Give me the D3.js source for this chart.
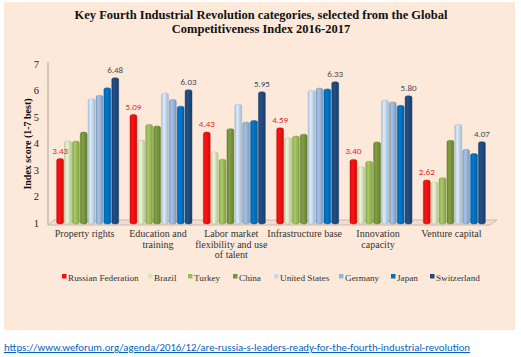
<!DOCTYPE html>
<html><head><meta charset="utf-8">
<script src="https://cdn.jsdelivr.net/npm/d3@7"></script>
<style>body{margin:0;background:#fff}svg{display:block}</style>
</head><body>
<svg id="c" width="521" height="357"></svg>
<script>
const categories = [["Property rights"],["Education and","training"],["Labor market","flexibility and use","of talent"],["Infrastructure base"],["Innovation","capacity"],["Venture capital"]];
const series = ["Russian Federation","Brazil","Turkey","China","United States","Germany","Japan","Switzerland"];
const colors = ["#ee1111","#d7e4bd","#9bbb59","#77933c","#c6d9f1","#95b3d7","#0070c0","#1f497d"];
const russia      = [3.43, 5.09, 4.43, 4.59, 3.40, 2.62];
const brazil      = [4.09, 4.13, 3.68, 4.22, 3.12, 2.55];
const turkey      = [4.09, 4.72, 3.41, 4.28, 3.33, 2.71];
const china       = [4.43, 4.66, 4.56, 4.35, 4.06, 4.12];
const unitedStates= [5.69, 5.91, 5.48, 6.00, 5.64, 4.72];
const germany     = [5.82, 5.66, 4.81, 6.09, 5.57, 3.78];
const japan       = [6.10, 5.41, 4.87, 6.06, 5.44, 3.62];
const switzerland = [6.48, 6.03, 5.95, 6.33, 5.80, 4.07];
const values = [russia, brazil, turkey, china, unitedStates, germany, japan, switzerland];
const yTicks = [1,2,3,4,5,6,7];
const title = ["Key Fourth  Industrial  Revolution  categories, selected from the Global","Competitiveness Index 2016-2017"];
const yTitle = "Index score (1-7 best)";
const link = "https://www.weforum.org/agenda/2016/12/are-russia-s-leaders-ready-for-the-fourth-industrial-revolution";

const svg = d3.select("#c");
const serif = "'Liberation Serif','Times New Roman',serif";
const sans = "Carlito,'Liberation Sans','Open Sans',sans-serif";

svg.append("rect").attr("x",4).attr("y",2).attr("width",511).attr("height",328).attr("fill","#fde9d9");

// title
svg.append("g").selectAll("text").data(title).join("text")
  .attr("x",261).attr("y",(d,i)=>19+i*13.5).attr("text-anchor","middle")
  .attr("font-family",serif).attr("font-weight","bold").attr("font-size",12.5).attr("fill","#111")
  .text(d=>d);

const y = d3.scaleLinear().domain([1,7]).range([223,64]);
const x0 = d3.scaleBand().domain(d3.range(categories.length)).range([48,488]).paddingInner(0.154).paddingOuter(0.077);
const x1 = d3.scaleBand().domain(d3.range(series.length)).range([0,x0.bandwidth()]).paddingInner(0.12);

// gradients for cylinder look
const defs = svg.append("defs");
colors.forEach((c,i)=>{
  const g = defs.append("linearGradient").attr("id","g"+i).attr("x1","0").attr("x2","1").attr("y1","0").attr("y2","0");
  const base = d3.color(c);
  g.append("stop").attr("offset","0").attr("stop-color",base.darker(0.35));
  g.append("stop").attr("offset","0.35").attr("stop-color",base.brighter(0.25));
  g.append("stop").attr("offset","1").attr("stop-color",base.darker(0.45));
});

// floor
svg.append("path").attr("d","M48,225 L54,220 L497,220 L490,225 Z").attr("fill","#f3ddcf").attr("stroke","#b8b0aa").attr("stroke-width",0.8);
// y axis line
svg.append("line").attr("x1",48).attr("x2",48).attr("y1",62).attr("y2",225).attr("stroke","#a6a6a6");

// y axis ticks
const yAxis = d3.axisLeft(y).tickValues(yTicks).tickSize(0).tickPadding(9).tickFormat(d3.format("d"));
const ya = svg.append("g").attr("transform","translate(48,0)").call(yAxis);
ya.select(".domain").remove();
ya.selectAll("text").attr("font-family",serif).attr("font-size",10.5).attr("fill","#222");

svg.append("text").attr("transform","translate(31,144) rotate(-90)").attr("text-anchor","middle")
  .attr("font-family",serif).attr("font-weight","bold").attr("font-size",10).attr("fill","#111").text(yTitle);

// bars
const shift = 3;
const groups = svg.append("g").selectAll("g").data(categories).join("g")
  .attr("transform",(d,i)=>`translate(${x0(i)+shift},0)`);
groups.selectAll("rect").data((d,ci)=>series.map((s,si)=>({si,v:values[si][ci]}))).join("rect")
  .attr("x",d=>x1(d.si)).attr("width",x1.bandwidth())
  .attr("y",d=>y(d.v)).attr("height",d=>y(1)-y(d.v)+1)
  .attr("rx",2.5).attr("ry",1.8)
  .attr("fill",d=>`url(#g${d.si})`).attr("stroke",d=>d3.color(colors[d.si]).darker(0.6)).attr("stroke-width",0.4);

// value labels
const lab = [[0,"#e8262d"],[7,"#404a5a"]];
lab.forEach(([si,col])=>{
  groups.append("text").datum((d,ci)=>values[si][ci])
    .attr("x",x1(si)+x1.bandwidth()/2).attr("y",(d)=>y(d)-5)
    .attr("text-anchor","middle").attr("font-family",sans).attr("font-size",9).attr("fill",col)
    .text(d=>d.toFixed(2));
});

// category labels
const cl = svg.append("g").selectAll("text").data(categories).join("text")
  .attr("x",(d,i)=>x0(i)+x0.bandwidth()/2).attr("y",237)
  .attr("text-anchor","middle").attr("font-family",serif).attr("font-size",10).attr("fill","#333");
cl.each(function(d){
  d3.select(this).selectAll("tspan").data(d).join("tspan")
    .attr("x",d3.select(this).attr("x")).attr("dy",(t,i)=>i?10.5:0).text(t=>t);
});

// legend
const legX = [62,148,188,233,274,339,391,430];
const lg = svg.append("g").selectAll("g").data(series).join("g").attr("transform",(d,i)=>`translate(${legX[i]},277)`);
lg.append("rect").attr("x",0).attr("y",-3).attr("width",4.5).attr("height",4.5).attr("fill",(d,i)=>colors[i]);
lg.append("text").attr("x",6).attr("y",3.5).attr("font-family",serif).attr("font-size",9.2).attr("fill","#333").text(d=>d);

// link
svg.append("text").attr("x",4).attr("y",351).attr("font-family",sans).attr("font-size",11)
  .attr("fill","#0563c1").attr("text-decoration","underline").attr("textLength",466).attr("lengthAdjust","spacingAndGlyphs").text(link);
</script>
</body></html>
